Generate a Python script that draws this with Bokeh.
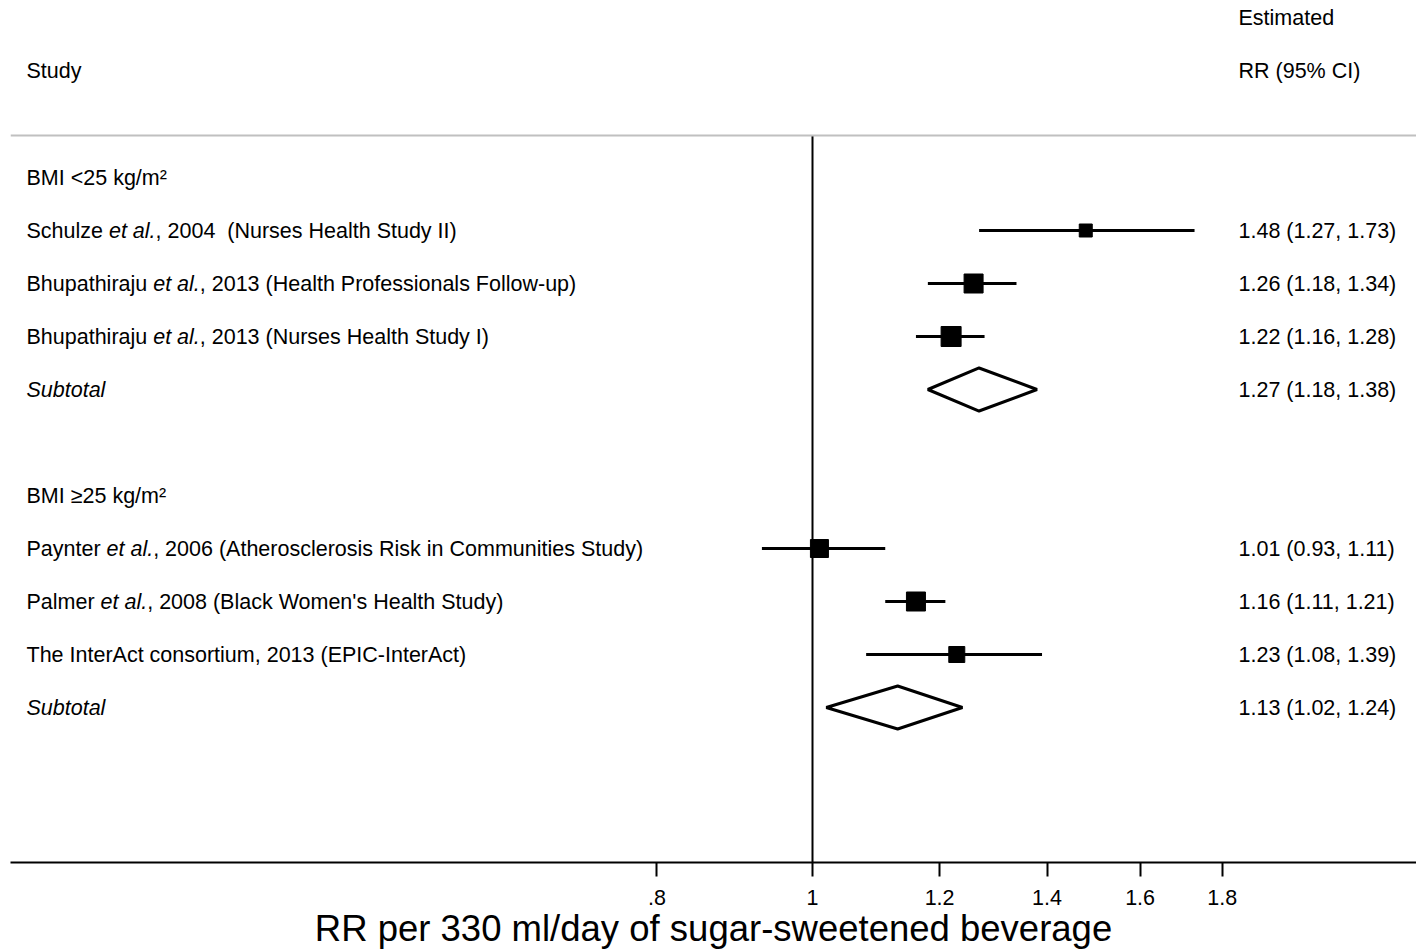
import math
from bokeh.plotting import figure
from bokeh.models import Range1d, FixedTicker, Span, ColumnDataSource
from bokeh.embed import file_html
from bokeh.resources import INLINE
from bokeh.core.properties import value

# ---------------- data ----------------
authors = ["Schulze", "Bhupathiraju", "Bhupathiraju", "Paynter", "Palmer",
           "The InterAct consortium"]
italic_parts = ["et al.", "et al.", "et al.", "et al.", "et al.", ""]
details = [", 2004 \u00a0(Nurses Health Study II)",
           ", 2013 (Health Professionals Follow-up)",
           ", 2013 (Nurses Health Study I)",
           ", 2006 (Atherosclerosis Risk in Communities Study)",
           ", 2008 (Black Women's Health Study)",
           ", 2013 (EPIC-InterAct)"]
rr = [1.48, 1.26, 1.22, 1.01, 1.16, 1.23]
rr_lo = [1.27, 1.18, 1.16, 0.93, 1.11, 1.08]
rr_hi = [1.73, 1.34, 1.28, 1.11, 1.21, 1.39]

group_labels = ["BMI <25 kg/m\u00b2", "BMI \u226525 kg/m\u00b2"]
subtotal_label = "Subtotal"
sub_rr = [1.27, 1.13]
sub_lo = [1.18, 1.02]
sub_hi = [1.38, 1.24]

header_study = "Study"
header_est = ["Estimated", "RR (95% CI)"]
tick_values = [0.8, 1.0, 1.2, 1.4, 1.6, 1.8]
tick_labels = [".8", "1", "1.2", "1.4", "1.6", "1.8"]
x_title = "RR per 330 ml/day of sugar-sweetened beverage"

# ---------------- layout (rows, styles) ----------------
study_rows = [4, 5, 6, 10, 11, 12]
group_rows = [3, 9]
subtotal_rows = [7, 13]
grey_row = 2.2075
row_top, row_bottom = -0.33962, 15.9245
box_size_px = [13, 19, 20, 18, 19, 16]
diamond_half = 0.406

FONT = "Liberation Sans"
FS = 21.5
FS_STR = "21.5px"

def px_to_rr(px):
    # canvas pixel -> RR value on the log axis (1 at 812 px, 697 px per ln unit)
    return math.exp((px - 812.0) / 697.0)

x_left = px_to_rr(26)
x_right = px_to_rr(1238)

AW = {' ': 278, '!': 278, "'": 191, '(': 333, ')': 333, ',': 278, '-': 333,
      '.': 278, '/': 278, ':': 278, '<': 584, '>': 584,
      'A': 667, 'B': 667, 'C': 722, 'D': 722, 'E': 667, 'F': 611, 'G': 778,
      'H': 722, 'I': 278, 'J': 500, 'K': 667, 'L': 556, 'M': 833, 'N': 722,
      'O': 778, 'P': 667, 'Q': 778, 'R': 722, 'S': 667, 'T': 611, 'U': 722,
      'V': 667, 'W': 944, 'X': 667, 'Y': 667, 'Z': 611,
      'a': 556, 'b': 556, 'c': 500, 'd': 556, 'e': 556, 'f': 278, 'g': 556,
      'h': 556, 'i': 222, 'j': 222, 'k': 500, 'l': 222, 'm': 833, 'n': 556,
      'o': 556, 'p': 556, 'q': 556, 'r': 333, 's': 500, 't': 278, 'u': 556,
      'v': 500, 'w': 722, 'x': 500, 'y': 500, 'z': 500}

def text_w(s):
    return sum(AW.get(c, 556) for c in s) / 1000.0 * FS

# ---------------- figure ----------------
p = figure(width=1416, height=951, x_axis_type="log",
           x_range=Range1d(px_to_rr(10), px_to_rr(1416)),
           y_range=Range1d(row_bottom, row_top),
           y_axis_location=None, toolbar_location=None, output_backend="svg",
           min_border_left=10, min_border_right=0, min_border_top=0,
           min_border_bottom=89)
p.outline_line_color = None
p.xgrid.visible = False
p.ygrid.visible = False
p.background_fill_color = "white"
p.border_fill_color = "white"

ax = p.xaxis[0]
ax.ticker = FixedTicker(ticks=tick_values, minor_ticks=[])
ax.major_label_overrides = {v: l for v, l in zip(tick_values, tick_labels)}
ax.axis_line_width = 2
ax.axis_line_color = "black"
ax.major_tick_line_width = 2
ax.major_tick_line_color = "black"
ax.major_tick_in = 0
ax.major_tick_out = 14
ax.minor_tick_out = 0
ax.minor_tick_in = 0
ax.major_label_text_font = FONT
ax.major_label_text_font_size = FS_STR
ax.major_label_text_color = "black"
ax.major_label_standoff = 13
ax.axis_label = x_title
ax.axis_label_text_font = FONT
ax.axis_label_text_font_size = "36.5px"
ax.axis_label_text_font_style = "normal"
ax.axis_label_text_color = "black"
ax.axis_label_standoff = 0

# grey separator
p.add_layout(Span(location=grey_row, dimension="width", line_color="#c0c0c0",
                  line_width=2))
# line of no effect
p.segment(x0=[1.0], y0=[grey_row], x1=[1.0], y1=[row_bottom],
          line_color="black", line_width=2)

# CIs and squares
p.segment(x0=rr_lo, y0=study_rows, x1=rr_hi, y1=study_rows,
          line_color="black", line_width=3)
p.scatter(x=rr, y=study_rows, marker="square", size=box_size_px,
          fill_color="black", line_color="black", line_width=1)

# subtotal diamonds
xs, ys = [], []
for e, l, h, r in zip(sub_rr, sub_lo, sub_hi, subtotal_rows):
    xs.append([l, e, h, e])
    ys.append([r, r - diamond_half, r, r + diamond_half])
p.patches(xs=xs, ys=ys, fill_color="white", line_color="black",
          line_width=3)

# texts
common = dict(text_font=value(FONT), text_font_size=FS_STR,
              text_baseline="middle", text_align="left", text_color="black")

norm_x, norm_y, norm_t, norm_off = [], [], [], []
ital_x, ital_y, ital_t, ital_off = [], [], [], []

norm_x.append(x_left); norm_y.append(1); norm_t.append(header_study); norm_off.append(0)
for i, t in enumerate(header_est):
    norm_x.append(x_right); norm_y.append(i); norm_t.append(t); norm_off.append(0)
for g, r in zip(group_labels, group_rows):
    norm_x.append(x_left); norm_y.append(r); norm_t.append(g); norm_off.append(0)

for a, it, d, r, e, l, h in zip(authors, italic_parts, details, study_rows,
                                rr, rr_lo, rr_hi):
    if it:
        norm_x.append(x_left); norm_y.append(r); norm_t.append(a); norm_off.append(0)
        o1 = text_w(a + " ")
        ital_x.append(x_left); ital_y.append(r); ital_t.append(it); ital_off.append(o1)
        o2 = o1 + text_w(it)
        norm_x.append(x_left); norm_y.append(r); norm_t.append(d); norm_off.append(o2)
    else:
        norm_x.append(x_left); norm_y.append(r); norm_t.append(a + d); norm_off.append(0)
    norm_x.append(x_right); norm_y.append(r)
    norm_t.append(f"{e:.2f} ({l:.2f}, {h:.2f})"); norm_off.append(0)

for r, e, l, h in zip(subtotal_rows, sub_rr, sub_lo, sub_hi):
    ital_x.append(x_left); ital_y.append(r); ital_t.append(subtotal_label); ital_off.append(0)
    norm_x.append(x_right); norm_y.append(r)
    norm_t.append(f"{e:.2f} ({l:.2f}, {h:.2f})"); norm_off.append(0)

src_n = ColumnDataSource(dict(x=norm_x, y=norm_y, text=norm_t, off=norm_off))
src_i = ColumnDataSource(dict(x=ital_x, y=ital_y, text=ital_t, off=ital_off))
p.text(x="x", y="y", text="text", x_offset="off", source=src_n,
       text_font_style="normal", **common)
p.text(x="x", y="y", text="text", x_offset="off", source=src_i,
       text_font_style="italic", **common)

open("out.html", "w").write(file_html(p, INLINE))
